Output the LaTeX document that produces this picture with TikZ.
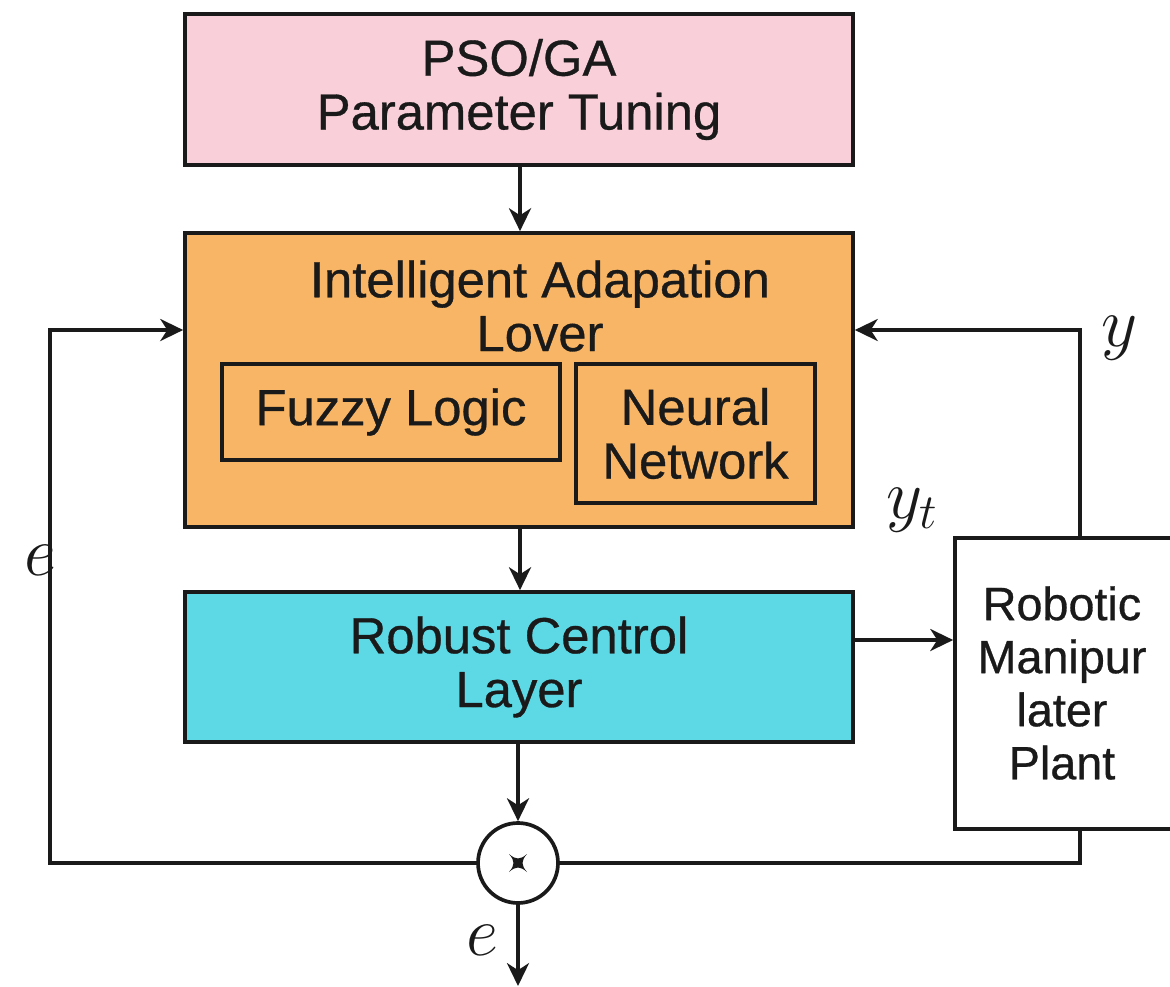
\RequirePackage{fix-cm}
\documentclass[tikz,border=0pt]{standalone}
\usepackage{fontspec}
\setmainfont{Liberation Sans}[FakeBold=0.6]
\usetikzlibrary{arrows.meta}
\definecolor{psopink}{HTML}{F9D0D9}
\definecolor{iaorange}{HTML}{F8B565}
\definecolor{rccyan}{HTML}{5CD9E5}
\definecolor{ink}{HTML}{1A1A1A}
\tikzset{
  blk/.style={draw=ink, line width=2.1pt, rectangle, inner sep=0pt, align=center, text=ink,
              font=\fontsize{28.9}{30.6}\selectfont},
  conn/.style={line width=2.1pt, draw=ink, -{Stealth[length=13pt,width=12.5pt,inset=4pt]}},
  wire/.style={line width=2.1pt, draw=ink},
  mlabel/.style={font=\fontsize{40}{40}\selectfont, inner sep=0pt, text=ink}
}
\begin{document}
\begin{tikzpicture}[x=0.02cm, y=-0.02cm]
\useasboundingbox (0,0) rectangle (1170,987);
% blocks
\node[blk, fill=psopink, minimum width=668*0.02cm, minimum height=151*0.02cm] (pso) at (519,89.5)
  {PSO/GA\\Parameter Tuning};
\node[blk, fill=iaorange, minimum width=668*0.02cm, minimum height=294*0.02cm] (ial) at (519,380) {};
\node[font=\fontsize{28.9}{30.6}\selectfont, align=center, inner sep=0pt, text=ink] (ialtext) at (540,306)
  {Intelligent Adapation\\Lover};
\node[blk, fill=iaorange, minimum width=338*0.02cm, minimum height=96*0.02cm] (fuzzy) at (391,412)
  {Fuzzy Logic};
\node[blk, fill=iaorange, minimum width=239*0.02cm, minimum height=139*0.02cm] (nn) at (695.5,433.5)
  {Neural\\Network};
\node[blk, fill=rccyan, minimum width=668*0.02cm, minimum height=150*0.02cm] (rcl) at (519,667)
  {Robust Centrol\\Layer};
\node[blk, fill=white, minimum width=220*0.02cm, minimum height=291*0.02cm] (plant) at (1065,683.5) {};
\node[font=\fontsize{26.6}{30.2}\selectfont, align=center, inner sep=0pt, text=ink] (planttext) at (1062,683)
  {Robotic\\Manipur\\later\\Plant};
\node[draw=ink, line width=2.1pt, circle, minimum size=80*0.02cm, inner sep=0pt, fill=white] (sum) at (518,863) {};
\fill[ink, shift={(sum.center)}]
  (-9,-9) .. controls (-2,-3) and (2,-3) .. (9,-9)
  .. controls (3,-2) and (3,2) .. (9,9)
  .. controls (2,3) and (-2,3) .. (-9,9)
  .. controls (-3,2) and (-3,-2) .. cycle;
% coordinates
\coordinate (out) at (518,986);
\coordinate (lb) at (50,863);
\coordinate (lt) at (50,330);
\coordinate (rb) at (1080,863);
\coordinate (rt) at (1080,330);
% connectors
\draw[conn] (pso.south -| 520,0) -- (ial.north -| 520,0);
\draw[conn] (ial.south -| 520,0) -- (rcl.north -| 520,0);
\draw[conn] (rcl.south -| sum.north) -- (sum.north);
\draw[conn] (sum.south) -- (out);
\draw[conn] (rcl.east |- 0,640) -- (plant.west |- 0,640);
\draw[conn] (sum.west) -- (lb) -- (lt) -- (ial.west |- lt);
\draw[wire] (sum.east) -- (rb) -- (plant.south -| rb);
\draw[conn] (plant.north -| rt) -- (rt) -- (ial.east |- rt);
% labels
\node[mlabel] (le) at (40,560) {$e$};
\node[mlabel] (le2) at (482,940) {$e$};
\node[mlabel] (ly) at (1120,338) {$y$};
\node[mlabel] (lyt) at (912,510) {$y_t$};
\end{tikzpicture}
\end{document}
